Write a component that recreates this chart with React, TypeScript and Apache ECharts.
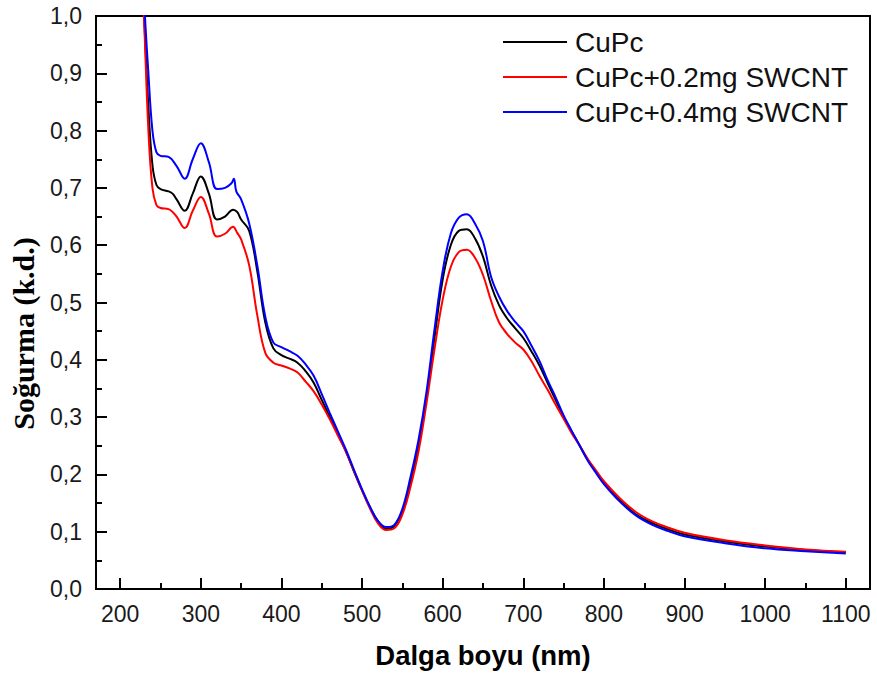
import React, { useEffect, useRef } from "react";
import * as echarts from "echarts";

// Wavelength (nm) grid for CuPc and CuPc+0.2mg SWCNT
const wlA = [225, 230, 235, 240, 245, 250, 260, 265, 270, 280, 290, 300, 310, 320, 330, 340, 345, 350, 360, 370, 380, 390, 400, 410, 420, 430, 440, 450, 460, 470, 480, 490, 500, 510, 520, 530, 540, 550, 560, 570, 580, 590, 600, 610, 620, 630, 640, 650, 660, 670, 680, 690, 700, 710, 720, 730, 740, 750, 760, 770, 780, 790, 800, 820, 840, 860, 880, 900, 950, 1000, 1050, 1100];
const cupc = [1.15, 0.99, 0.84, 0.74, 0.705, 0.698, 0.694, 0.69, 0.68, 0.66, 0.69, 0.72, 0.69, 0.645, 0.65, 0.662, 0.658, 0.645, 0.625, 0.555, 0.465, 0.42, 0.408, 0.402, 0.395, 0.38, 0.36, 0.33, 0.3, 0.27, 0.24, 0.205, 0.172, 0.142, 0.118, 0.105, 0.11, 0.135, 0.185, 0.25, 0.335, 0.44, 0.54, 0.6, 0.625, 0.628, 0.612, 0.58, 0.53, 0.495, 0.472, 0.455, 0.438, 0.415, 0.39, 0.36, 0.33, 0.3, 0.275, 0.25, 0.225, 0.205, 0.185, 0.155, 0.13, 0.115, 0.104, 0.095, 0.083, 0.074, 0.068, 0.064];
const cupc02 = [1.15, 0.98, 0.8, 0.7, 0.67, 0.665, 0.663, 0.658, 0.65, 0.63, 0.66, 0.684, 0.655, 0.615, 0.62, 0.632, 0.622, 0.61, 0.565, 0.478, 0.412, 0.395, 0.39, 0.385, 0.378, 0.362, 0.345, 0.322, 0.296, 0.268, 0.24, 0.206, 0.172, 0.14, 0.114, 0.103, 0.106, 0.13, 0.178, 0.24, 0.325, 0.42, 0.505, 0.562, 0.588, 0.592, 0.578, 0.548, 0.503, 0.465, 0.445, 0.43, 0.418, 0.398, 0.372, 0.348, 0.322, 0.297, 0.272, 0.25, 0.227, 0.207, 0.188, 0.158, 0.134, 0.118, 0.107, 0.098, 0.085, 0.076, 0.069, 0.065];

// Wavelength grid for CuPc+0.4mg SWCNT
const wlB = [225, 230, 235, 240, 245, 250, 260, 270, 280, 290, 300, 310, 320, 330, 338, 341, 344, 350, 360, 370, 380, 390, 400, 410, 420, 430, 440, 450, 460, 470, 480, 490, 500, 510, 520, 530, 540, 550, 560, 570, 580, 590, 600, 610, 620, 630, 640, 650, 660, 670, 680, 690, 700, 710, 720, 730, 740, 750, 760, 770, 780, 790, 800, 820, 840, 860, 880, 900, 950, 1000, 1050, 1100];
const cupc04 = [1.2, 1.02, 0.9, 0.8, 0.762, 0.756, 0.754, 0.738, 0.716, 0.75, 0.778, 0.745, 0.698, 0.7, 0.708, 0.716, 0.694, 0.68, 0.638, 0.565, 0.475, 0.43, 0.422, 0.415, 0.407, 0.392, 0.372, 0.34, 0.307, 0.275, 0.243, 0.208, 0.174, 0.143, 0.118, 0.108, 0.112, 0.14, 0.195, 0.26, 0.345, 0.455, 0.555, 0.62, 0.648, 0.654, 0.638, 0.607, 0.545, 0.51, 0.485, 0.466, 0.45, 0.425, 0.398, 0.365, 0.335, 0.303, 0.276, 0.25, 0.224, 0.203, 0.183, 0.152, 0.128, 0.112, 0.101, 0.092, 0.08, 0.071, 0.066, 0.062];

const seriesNames = ["CuPc", "CuPc+0.2mg SWCNT", "CuPc+0.4mg SWCNT"];
const seriesColors = ["#000000", "#ff0000", "#0000ff"];

const xMajorTicks = [200, 300, 400, 500, 600, 700, 800, 900, 1000, 1100];
const xMinorTicks = [250, 350, 450, 550, 650, 750, 850, 950, 1050];

const zip = (xs: number[], ys: number[]) => xs.map((x, i) => [x, ys[i]]);

const SANS = "'Liberation Sans', Arial, Helvetica, sans-serif";
const SERIF = "'Liberation Serif', 'Times New Roman', serif";

export default function App() {
  const ref = useRef<HTMLDivElement>(null);
  useEffect(() => {
    if (!ref.current) return;
    const chart = echarts.init(ref.current, undefined, { renderer: "svg" });
    const data = [zip(wlA, cupc), zip(wlA, cupc02), zip(wlB, cupc04)];
    chart.setOption({
      animation: false,
      backgroundColor: "#ffffff",
      grid: {
        left: 96,
        right: 7,
        top: 16,
        bottom: 91,
        show: true,
        borderColor: "#000",
        borderWidth: 2,
        backgroundColor: "transparent",
      },
      legend: {
        orient: "vertical",
        left: 503,
        top: 28,
        padding: 0,
        itemWidth: 64,
        itemHeight: 2,
        icon: "rect",
        itemGap: 7,
        data: seriesNames,
        textStyle: {
          fontFamily: SANS,
          fontSize: 28,
          lineHeight: 26,
          color: "#111",
          padding: [0, 0, 0, 3],
        },
      },
      xAxis: [
        {
          type: "value",
          min: 170,
          max: 1130,
          position: "bottom",
          name: "Dalga boyu (nm)",
          nameLocation: "middle",
          nameGap: 52,
          nameTextStyle: {
            fontFamily: SANS,
            fontSize: 27.5,
            fontWeight: "bold",
            color: "#000",
          },
          axisLine: { show: true, lineStyle: { color: "#000", width: 2 } },
          axisTick: {
            show: true,
            inside: true,
            length: 11,
            lineStyle: { color: "#000", width: 2 },
            customValues: xMajorTicks,
          },
          axisLabel: {
            show: true,
            customValues: xMajorTicks,
            margin: 13,
            fontFamily: SANS,
            fontSize: 23,
            color: "#1a1a1a",
            formatter: (v: number) => String(v),
          },
          splitLine: { show: false },
        },
        {
          type: "value",
          min: 170,
          max: 1130,
          position: "bottom",
          axisLine: { show: false },
          axisTick: {
            show: true,
            inside: true,
            length: 6,
            lineStyle: { color: "#000", width: 2 },
            customValues: xMinorTicks,
          },
          axisLabel: { show: false },
          splitLine: { show: false },
        },
      ],
      yAxis: {
        type: "value",
        min: 0,
        max: 1,
        interval: 0.1,
        name: "Soğurma (k.d.)",
        nameLocation: "middle",
        nameGap: 58,
        nameRotate: 90,
        nameTextStyle: {
          fontFamily: SERIF,
          fontSize: 30,
          fontWeight: "bold",
          color: "#000",
          padding: [0, 62, 0, 0],
        },
        axisLine: { show: true, lineStyle: { color: "#000", width: 2 } },
        axisTick: {
          show: true,
          inside: true,
          length: 11,
          lineStyle: { color: "#000", width: 2 },
        },
        minorTick: {
          show: true,
          splitNumber: 2,
          length: 6,
          lineStyle: { color: "#000", width: 2 },
        },
        axisLabel: {
          margin: 14,
          fontFamily: SANS,
          fontSize: 23,
          color: "#1a1a1a",
          formatter: (v: number) => v.toFixed(1).replace(".", ","),
        },
        splitLine: { show: false },
      },
      series: seriesNames.map((name, i) => ({
        name,
        type: "line",
        xAxisIndex: 0,
        data: data[i],
        smooth: 0.4,
        symbol: "none",
        clip: true,
        lineStyle: { color: seriesColors[i], width: 2 },
        itemStyle: { color: seriesColors[i] },
      })),
    });
    return () => chart.dispose();
  }, []);
  return (
    <div
      ref={ref}
      style={{ position: "fixed", left: 0, top: 0, width: 877, height: 680 }}
    />
  );
}
